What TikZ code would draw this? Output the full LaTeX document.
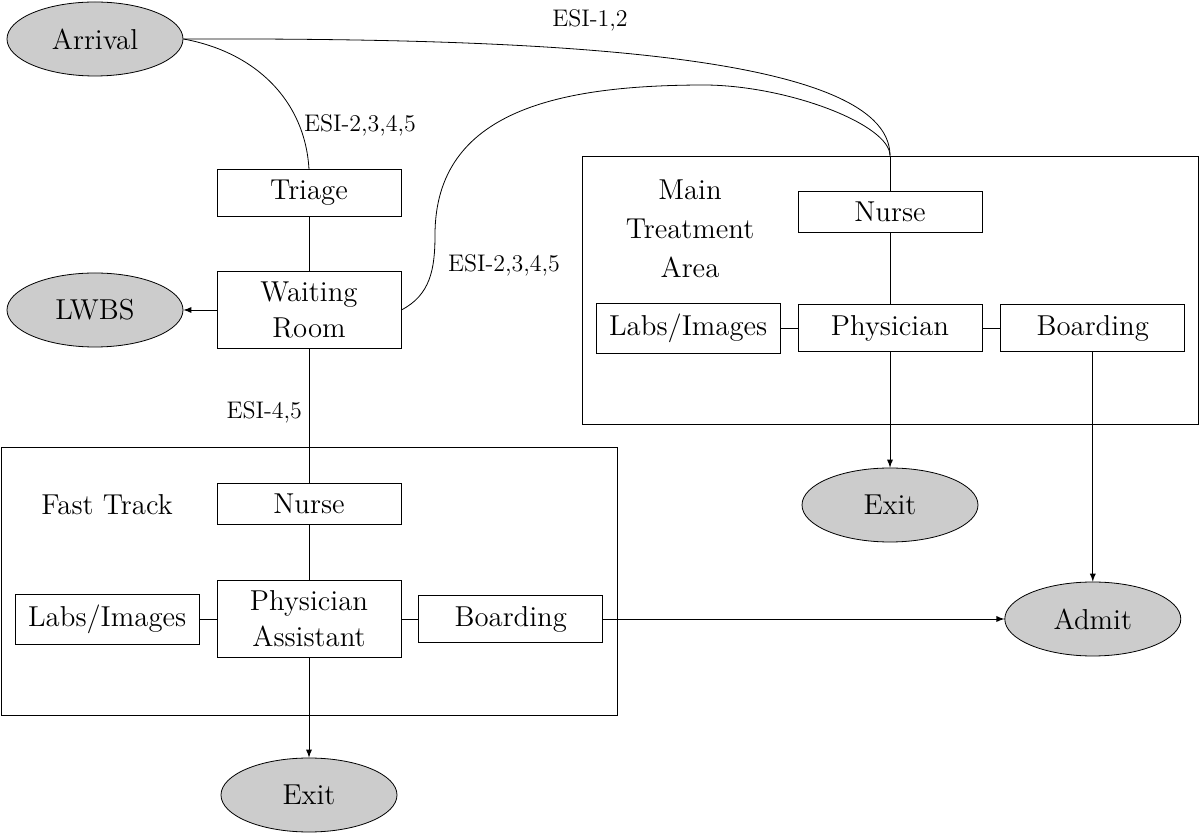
\documentclass[tikz,border=0pt]{standalone}
\usetikzlibrary{calc,arrows,positioning,shapes.geometric}
\begin{document}
\begin{tikzpicture}[x=0.5pt,y=-0.5pt,font=\Large]

\tikzset{greynode/.style={shape=ellipse,fill=black!20,draw=black,inner sep=0pt,minimum width=88pt,minimum height=37pt},
boxnode/.style={shape=rectangle,draw=black,inner xsep=4pt,inner ysep=5.3pt,minimum width=92pt,align=center},
areanode/.style={shape=rectangle,draw=black,minimum width=308pt,minimum height=134pt},
esi/.style={font=\large}}

\useasboundingbox (0,0) rectangle (1200,833);

% Area frames
\node[areanode] (mainArea) at (890,290) {};
\node[areanode] (fastArea) at (309.5,581) {};

% Arrival and triage nodes
\node[greynode] (arrival) at (95,39) {Arrival};
\node[boxnode] (triage) at (309,193) {Triage};
\node[boxnode] (waitRoom) at (309,310) {Waiting\\Room};
\node[greynode] (lwbs) at (95,310) {LWBS};

% Main treatment nodes
\node[align=center] (mainLabel) at (690,229) {Main\\[1.5pt]Treatment\\[1.5pt]Area};
\node[boxnode] (mainNurse) at (890,212) {Nurse};
\node[boxnode] (mainPhys) at (890,328) {Physician};
\node[boxnode,left=8.5pt of mainPhys] (mainLabs) {Labs/Images};
\node[boxnode,right=9pt of mainPhys] (mainBoard) {Boarding};
\node[greynode] (mainExit) at (890,505) {Exit};

% Fast track nodes
\node (fastLabel) at (107,505) {Fast Track};
\node[boxnode] (fastNurse) at (309,504) {Nurse};
\node[boxnode] (fastPA) at (309,619) {Physician\\Assistant};
\node[boxnode,left=8.5pt of fastPA] (fastLabs) {Labs/Images};
\node[boxnode,right=8.5pt of fastPA] (fastBoard) {Boarding};
\node[greynode] (fastExit) at (309,795) {Exit};
\node[greynode] (admit) at (mainBoard |- fastBoard) {Admit};

% Edges
\coordinate (mainTop) at (mainNurse |- mainArea.north);
\draw (arrival.east) .. controls (520,38) and (890,50) .. (mainTop); % ESI-1,2
\draw (arrival.east) .. controls (255,52) and (305,100) .. (triage.north);
\draw (waitRoom.east) .. controls (430,295) and (435,270) .. (435,235) .. controls (435,110) and (560,85) .. (706,85) .. controls (790,86) and (890,125) .. (mainTop);
\draw (mainTop) -- (mainNurse);
\draw (triage) -- (waitRoom); \draw[-latex] (waitRoom) -- (lwbs);
\draw (waitRoom) -- (fastNurse) node[pos=0.47,left,esi] (esiLow) {ESI-4,5};
\draw (mainNurse) -- (mainPhys); \draw (mainLabs) -- (mainPhys); \draw (mainPhys) -- (mainBoard); % main area
\draw[-latex] (mainPhys) -- (mainExit); \draw[-latex] (mainBoard) -- (admit);
\draw (fastNurse) -- (fastPA); \draw (fastLabs) -- (fastPA); \draw (fastPA) -- (fastBoard); % fast track
\draw[-latex] (fastPA) -- (fastExit); \draw[-latex] (fastBoard) -- (admit);

% ESI labels
\node[esi] (esiTop) at (590,20) {ESI-1,2};
\node[esi] (esiTriage) at (360,125) {ESI-2,3,4,5};
\node[esi] (esiMain) at (504,265) {ESI-2,3,4,5};

\end{tikzpicture}
\end{document}
